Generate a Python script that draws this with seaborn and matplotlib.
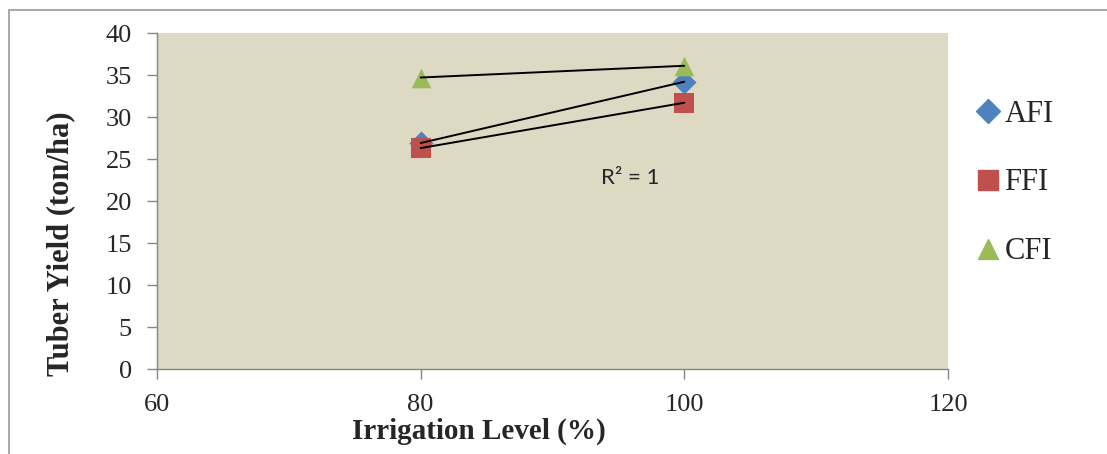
import numpy as np
import pandas as pd
import matplotlib
matplotlib.use("Agg")
import matplotlib.pyplot as plt
import seaborn as sns
from matplotlib.patches import Rectangle
from matplotlib.lines import Line2D

irrigation = [80, 100]
afi = [26.9, 34.2]
ffi = [26.3, 31.7]
cfi = [34.7, 36.1]
treatments = ["AFI", "FFI", "CFI"]

colors = {"AFI": "#4F81BD", "FFI": "#C0504D", "CFI": "#9BBB59"}
markers = {"AFI": "D", "FFI": "s", "CFI": "^"}
sizes = {"AFI": 150, "FFI": 200, "CFI": 200}

df = pd.DataFrame({
    "irrigation": irrigation * 3,
    "yield": afi + ffi + cfi,
    "treatment": [t for t in treatments for _ in irrigation],
})

sns.set_style("white")
plt.rcParams["font.family"] = ["Liberation Serif", "DejaVu Serif"]

fig = plt.figure(figsize=(11.07, 4.54), dpi=100)
fig.patches.append(Rectangle((9 / 1107, -0.1), 1.2, (454 - 10) / 454 + 0.1,
                             transform=fig.transFigure, fill=False,
                             edgecolor="#9a9a9a", linewidth=1.2))
ax = fig.add_axes([157 / 1107, (454 - 369) / 454, (948 - 157) / 1107, (369 - 33) / 454])
ax.set_facecolor("#DDD9C3")

for t in treatments:
    sub = df[df["treatment"] == t]
    sns.scatterplot(data=sub, x="irrigation", y="yield", marker=markers[t],
                    color=colors[t], s=sizes[t], linewidth=0, ax=ax, zorder=3)
for t in treatments:
    sub = df[df["treatment"] == t]
    sns.regplot(data=sub, x="irrigation", y="yield", scatter=False, ci=None,
                truncate=True, color="black", line_kws={"linewidth": 1.4, "zorder": 4}, ax=ax)

ax.text(95.9, 22.7, "R² = 1", fontsize=16, family=["Lato", "DejaVu Sans"], ha="center", va="center")

ax.set_xlim(60, 120)
ax.set_ylim(0, 40)
ax.set_xticks([60, 80, 100, 120])
ax.set_yticks(range(0, 41, 5))
ax.tick_params(axis="both", labelsize=19, direction="out", length=7, width=1,
               color="#868686", left=True, bottom=True)
ax.tick_params(axis="y", pad=11)
ax.tick_params(axis="x", pad=11)
for side in ["top", "right"]:
    ax.spines[side].set_visible(False)
for side in ["left", "bottom"]:
    ax.spines[side].set_color("#868686")
    ax.spines[side].set_linewidth(1)

ax.set_xlabel("Irrigation Level (%)", fontsize=21, fontweight="bold")
ax.set_ylabel("Tuber Yield (ton/ha)", fontsize=22, fontweight="bold")
ax.xaxis.set_label_coords((479 - 157) / 791, (369 - 418) / 336)
ax.yaxis.set_label_coords((75 - 157) / 791, (369 - 244) / 336)

handles = [Line2D([], [], linestyle="none", marker=markers[t], color=colors[t],
                  markersize=14 if t != "AFI" else 12) for t in treatments]
fig.legend(handles, treatments, loc="center left", bbox_to_anchor=(960 / 1107, (454 - 183) / 454),
           frameon=False, fontsize=22, handlelength=0.8, handletextpad=0.15,
           labelspacing=1.3, borderpad=0)

fig.savefig("out.png", dpi=100)
